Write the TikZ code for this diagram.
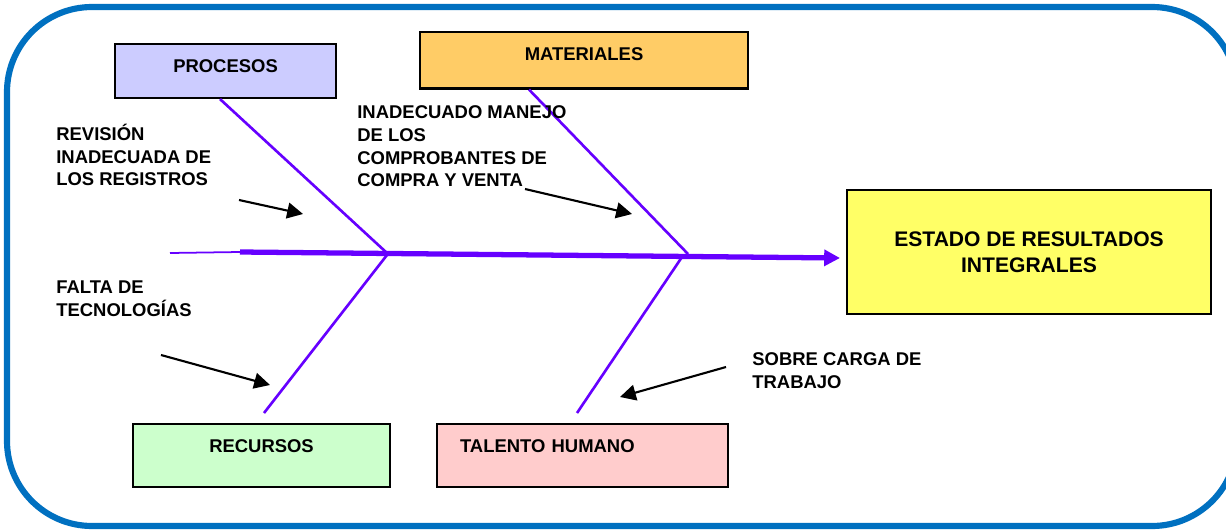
\documentclass[tikz,border=0pt]{standalone}
\usepackage{fontspec}
\setmainfont{Liberation Sans}
\usetikzlibrary{arrows.meta,positioning,calc}
\definecolor{frameblue}{RGB}{0,112,192}
\definecolor{spineviolet}{RGB}{102,0,255}
\definecolor{procfill}{RGB}{204,204,255}
\definecolor{matfill}{RGB}{255,204,102}
\definecolor{recfill}{RGB}{204,255,204}
\definecolor{talfill}{RGB}{255,204,204}
\definecolor{resfill}{RGB}{255,255,102}

\begin{document}
\begin{tikzpicture}[x=0.02cm,y=-0.02cm,font=\bfseries\fontsize{10.5}{13}\selectfont,
	catbox/.style={draw,line width=1.2pt,inner sep=0pt,anchor=north west,text height=0.57cm},
	cause/.style={anchor=base west,align=left,inner sep=0pt},
	bone/.style={draw=spineviolet,line width=1.5pt},
	pointer/.style={-{Triangle[length=9pt,width=9pt]},line width=1.2pt}]
	\useasboundingbox (0,0) rectangle (1226,530);
	\begin{scope}
		\clip (0,0) rectangle (1226,530);
		\draw[frameblue,line width=3.5pt,rounded corners=1.7cm] (7,7) rectangle (1237,526);
	\end{scope}
	
	\node[catbox,fill=procfill,minimum width=4.42cm,text depth=0.51cm] (proc) at (114,43) {PROCESOS};
	\node[catbox,fill=matfill,minimum width=6.56cm,text depth=0.56cm] (mat) at (419,31) {MATERIALES};
	\node[catbox,fill=recfill,minimum width=5.14cm,text depth=0.69cm] (rec) at (132,423) {RECURSOS};
	\node[catbox,fill=talfill,inner xsep=0.46cm,text width=4.9cm,align=left,text depth=0.69cm] (tal) at (436,423) {TALENTO HUMANO};
	\node[draw,line width=1.2pt,fill=resfill,minimum width=7.28cm,minimum height=2.48cm,align=center,
	font=\bfseries\fontsize{12}{15}\selectfont] (res) at (1029,252) {ESTADO DE RESULTADOS\\INTEGRALES};
	
	\coordinate (tail) at (170,253);
	\coordinate (thick) at (240,252);
	\coordinate (head) at (840,258);
	\draw[spineviolet,line width=1pt] (tail) -- (thick);
	\draw[spineviolet,line width=3pt,-{Triangle[length=9pt,width=9pt]}] (thick) -- (head);
	
	\coordinate (j-proc) at (387,253);
	\coordinate (j-mat) at (688,254);
	\coordinate (j-rec) at (387,255);
	\coordinate (j-tal) at (682,257);
	\coordinate (e-rec) at (264,413);
	\coordinate (e-tal) at (577,413);
	\draw[bone] ([xshift=-0.11cm]proc.south) -- (j-proc);
	\draw[bone] ([xshift=-1.1cm]mat.south) -- (j-mat);
	\draw[bone] (j-rec) -- (e-rec);
	\draw[bone] (j-tal) -- (e-tal);
	
	\node[cause] (c-rev) at (56,186) {REVISIÓN\\INADECUADA DE\\LOS REGISTROS};
	\node[cause] (c-man) at (357,187) {INADECUADO MANEJO\\DE LOS\\COMPROBANTES DE\\COMPRA Y VENTA};
	\node[cause] (c-tec) at (56,316) {FALTA DE\\TECNOLOGÍAS};
	\node[cause] (c-car) at (752,388) {SOBRE CARGA DE\\TRABAJO};
	
	\coordinate (a-rev) at (239,200);
	\coordinate (b-rev) at (303,214);
	\coordinate (a-man) at (525,189);
	\coordinate (b-man) at (632,214);
	\coordinate (a-tec) at (161,355);
	\coordinate (b-tec) at (270,385);
	\coordinate (a-car) at (726,367);
	\coordinate (b-car) at (620,397);
	\foreach \X in {rev,man,tec,car}
	\draw[pointer] (a-\X) -- (b-\X);
\end{tikzpicture}
\end{document}
